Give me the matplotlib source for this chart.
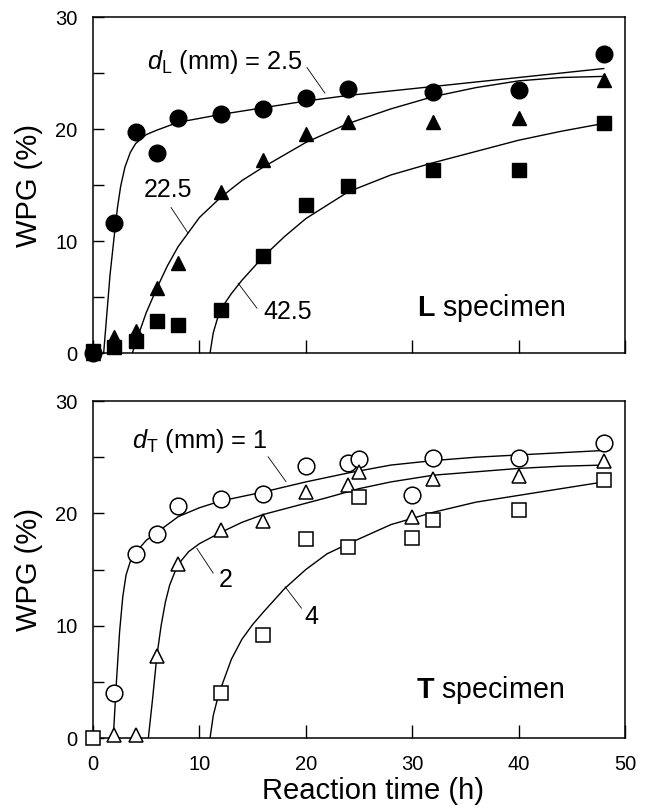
import matplotlib
matplotlib.use("Agg")
import matplotlib.pyplot as plt
from matplotlib.ticker import MultipleLocator

plt.rcParams['font.family'] = ['Liberation Sans', 'DejaVu Sans']
plt.rcParams['mathtext.fontset'] = 'custom'
plt.rcParams['mathtext.rm'] = 'Liberation Sans'
plt.rcParams['mathtext.it'] = 'Liberation Sans:italic'
plt.rcParams['mathtext.bf'] = 'Liberation Sans:bold'

# ---- L specimen (top) : measured points ----
tL = [0, 2, 4, 6, 8, 12, 16, 20, 24, 32, 40, 48]
L_25 = [0.0, 11.6, 19.7, 17.9, 21.0, 21.3, 21.8, 22.8, 23.6, 23.3, 23.5, 26.7]
L_225 = [0.0, 1.4, 2.0, 5.8, 8.0, 14.4, 17.2, 19.6, 20.6, 20.6, 21.0, 24.4]
L_425 = [0.2, 0.5, 1.1, 2.9, 2.5, 3.8, 8.7, 13.2, 14.9, 16.3, 16.3, 20.5]

# fitted curves
cL1_t = [1.0, 1.3, 1.6, 2.0, 2.3, 2.6, 3.0, 3.5, 4.0, 5.0, 6.0, 8.0, 12, 16, 20, 24, 32, 40, 48]
cL1_y = [0.0, 3.5, 7.0, 10.5, 13.0, 14.9, 16.6, 17.9, 18.7, 19.5, 19.9, 20.6, 21.3, 21.9, 22.5, 23.0, 23.8, 24.6, 25.4]
cL2_t = [3.7, 4.0, 5.0, 6.0, 7.0, 8.0, 10, 12, 14, 16, 20, 24, 28, 32, 36, 40, 44, 48]
cL2_y = [0.0, 0.9, 3.6, 5.8, 7.8, 9.5, 12.1, 13.9, 15.4, 16.6, 18.8, 20.5, 21.8, 22.9, 23.7, 24.3, 24.6, 24.7]
cL3_t = [11.0, 11.3, 11.7, 12, 13, 14, 16, 18, 20, 22, 24, 28, 32, 36, 40, 44, 48]
cL3_y = [0.0, 1.8, 3.1, 3.9, 5.3, 6.5, 8.6, 10.4, 12.0, 13.2, 14.4, 15.9, 17.0, 18.0, 19.0, 19.8, 20.5]

# ---- T specimen (bottom) : measured points ----
tT1 = [2, 4, 6, 8, 12, 16, 20, 24, 25, 30, 32, 40, 48]
T_1 = [4.0, 16.4, 18.2, 20.7, 21.3, 21.7, 24.2, 24.5, 24.8, 21.6, 24.9, 24.9, 26.3]
tT2 = [2, 4, 6, 8, 12, 16, 20, 24, 25, 30, 32, 40, 48]
T_2 = [0.3, 0.3, 7.3, 15.5, 18.5, 19.3, 21.9, 22.5, 23.7, 19.7, 23.1, 23.3, 24.7]
tT4 = [0, 12, 16, 20, 24, 25, 30, 32, 40, 48]
T_4 = [0.0, 4.0, 9.2, 17.7, 17.0, 21.5, 17.8, 19.4, 20.3, 23.0]

cT1_t = [1.9, 2.2, 2.5, 2.8, 3.1, 3.5, 4.0, 5.0, 6.0, 8.0, 10, 12, 16, 20, 24, 28, 32, 36, 40, 44, 48]
cT1_y = [0.0, 5.0, 9.5, 12.6, 14.5, 15.7, 16.5, 17.6, 18.3, 19.7, 20.5, 21.1, 21.9, 22.8, 23.6, 24.3, 24.7, 25.0, 25.2, 25.4, 25.6]
cT2_t = [5.2, 5.6, 6.0, 6.4, 6.8, 7.2, 7.7, 8.3, 9.0, 10, 12, 14, 16, 20, 22, 25, 28, 32, 36, 40, 44, 48]
cT2_y = [0.0, 3.5, 7.3, 10.0, 12.1, 13.6, 14.8, 15.8, 16.6, 17.3, 18.3, 19.2, 19.9, 20.9, 21.4, 22.2, 22.8, 23.4, 23.7, 24.0, 24.2, 24.3]
cT3_t = [11.0, 11.3, 11.7, 12, 13, 14, 15, 16, 18, 20, 22, 24, 28, 32, 36, 40, 44, 48]
cT3_y = [0.0, 2.0, 3.5, 4.4, 7.0, 8.8, 10.1, 11.2, 13.3, 15.0, 16.4, 17.3, 19.0, 20.1, 21.0, 21.6, 22.2, 22.8]

fig = plt.figure(figsize=(6.46, 8.11), dpi=100)
ax1 = fig.add_axes([0.144, 0.5647, 0.8235, 0.4143])
ax2 = fig.add_axes([0.144, 0.0900, 0.8235, 0.4155])

lw = 1.1
for ax in (ax1, ax2):
    ax.set_xlim(0, 50)
    ax.set_ylim(0, 30)
    ax.xaxis.set_major_locator(MultipleLocator(10))
    ax.yaxis.set_major_locator(MultipleLocator(10))
    ax.yaxis.set_minor_locator(MultipleLocator(5))
    ax.tick_params(axis='x', which='major', direction='in', length=9.5, width=1.0,
                   labelsize=14.5, pad=12, top=False)
    ax.tick_params(axis='y', which='both', direction='in', length=8, width=1.0,
                   labelsize=14.5, pad=11, right=False)
    for s in ax.spines.values():
        s.set_linewidth(lw)
    ax.set_ylabel('WPG (%)', fontsize=21)
    ax.yaxis.set_label_coords(-0.094, 0.5)

ax1.tick_params(axis='x', labelbottom=False)

# top panel
ax1.plot(cL1_t, cL1_y, color='black', lw=1.0, zorder=2)
ax1.plot(cL2_t, cL2_y, color='black', lw=1.0, zorder=2)
ax1.plot(cL3_t, cL3_y, color='black', lw=1.0, zorder=2)
ax1.plot(tL, L_25, 'o', ms=12, color='black', clip_on=False, zorder=3)
ax1.plot(tL, L_225, '^', ms=10.5, color='black', clip_on=False, zorder=3)
ax1.plot(tL, L_425, 's', ms=10, color='black', clip_on=False, zorder=4)

line_kw = dict(arrowstyle='-', color='black', lw=0.6, shrinkA=0, shrinkB=0)
ax1.text(12.4, 26.0, r'$d_\mathrm{L}$ (mm) = 2.5', fontsize=18.3, ha='center', va='center')
ax1.annotate('', xy=(21.8, 23.2), xytext=(20.1, 25.5), arrowprops=line_kw)
ax1.text(7.0, 14.55, '22.5', fontsize=18, ha='center', va='center')
ax1.annotate('', xy=(8.93, 10.7), xytext=(7.33, 13.0), arrowprops=line_kw)
ax1.text(18.3, 3.66, '42.5', fontsize=18, ha='center', va='center')
ax1.annotate('', xy=(13.63, 6.25), xytext=(15.41, 4.0), arrowprops=line_kw)
ax1.text(37.4, 4.0, r'$\mathbf{L}$ specimen', fontsize=20.6, ha='center', va='center')

# bottom panel
ax2.plot(cT1_t, cT1_y, color='black', lw=1.0, zorder=2)
ax2.plot(cT2_t, cT2_y, color='black', lw=1.0, zorder=2)
ax2.plot(cT3_t, cT3_y, color='black', lw=1.0, zorder=2)
ax2.plot(tT1, T_1, 'o', ms=12, mfc='white', mec='black', mew=1.1, clip_on=False, zorder=3)
ax2.plot(tT2, T_2, '^', ms=10.5, mfc='white', mec='black', mew=1.1, clip_on=False, zorder=3)
ax2.plot(tT4, T_4, 's', ms=10, mfc='white', mec='black', mew=1.1, clip_on=False, zorder=4)

ax2.text(10.0, 26.4, r'$d_\mathrm{T}$ (mm) = 1', fontsize=18.3, ha='center', va='center')
ax2.annotate('', xy=(18.14, 22.82), xytext=(16.45, 25.05), arrowprops=line_kw)
ax2.text(12.45, 14.07, '2', fontsize=18, ha='center', va='center')
ax2.annotate('', xy=(9.75, 16.9), xytext=(11.3, 14.67), arrowprops=line_kw)
ax2.text(20.54, 10.8, '4', fontsize=18, ha='center', va='center')
ax2.annotate('', xy=(18.05, 13.47), xytext=(19.6, 11.55), arrowprops=line_kw)
ax2.text(37.3, 4.27, r'$\mathbf{T}$ specimen', fontsize=20.6, ha='center', va='center')

ax2.set_xlabel('Reaction time (h)', fontsize=21)
ax2.xaxis.set_label_coords(0.526, -0.115)

fig.savefig('out.png', dpi=100)
